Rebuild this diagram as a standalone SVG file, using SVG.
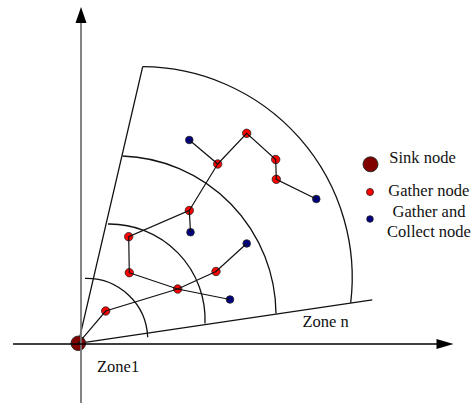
<svg xmlns="http://www.w3.org/2000/svg" width="476" height="403" viewBox="0 0 476 403">
<style>
.z{fill:none;stroke:#111;stroke-width:1.3}
.c{fill:none;stroke:#111;stroke-width:1.2}
.g{fill:#ff0000;stroke:#222;stroke-width:0.8}
.b{fill:#000080;stroke:#222;stroke-width:0.8}
.s{fill:#800000;stroke:#222;stroke-width:0.9}
.t{font-family:"Liberation Serif","Times New Roman",serif;font-size:16.5px;fill:#111}
</style>
<rect width="476" height="403" fill="#fff"/>
<g id="zones">
<path class="z" d="M78.3 343.3 L142.7 66.7 M78.3 343.3 L372.3 299.8"/>
<path class="z" d="M85 278.3 A61.2 61.2 0 0 1 147.7 337.3"/>
<path class="z" d="M108 224 A95.6 95.6 0 0 1 205 323.5"/>
<path class="z" d="M122.5 156 A159 159 0 0 1 276 313.6"/>
<path class="z" d="M142.7 66.7 A210.8 210.8 0 0 1 350.7 302.8"/>
</g>
<g id="nodes">
<g id="sink"><circle class="s" cx="78.3" cy="343.3" r="7.3"/></g>
<g id="R1"><circle class="g" cx="105.7" cy="311" r="4.2"/></g>
<g id="D"><circle class="g" cx="177.7" cy="289" r="4.2"/></g>
<g id="R2"><circle class="g" cx="216" cy="271.5" r="4.2"/></g>
<g id="B1"><circle class="b" cx="246.7" cy="243.5" r="3.8"/></g>
<g id="R3"><circle class="g" cx="129.3" cy="272.7" r="4.2"/></g>
<g id="B2"><circle class="b" cx="230" cy="299.5" r="3.8"/></g>
<g id="R4"><circle class="g" cx="128.7" cy="236.7" r="4.2"/></g>
<g id="R5"><circle class="g" cx="189.3" cy="210.5" r="4.2"/></g>
<g id="B3"><circle class="b" cx="190.5" cy="232.2" r="3.8"/></g>
<g id="R6"><circle class="g" cx="217.7" cy="164" r="4.2"/></g>
<g id="B4"><circle class="b" cx="189.3" cy="140" r="3.8"/></g>
<g id="R7"><circle class="g" cx="246.7" cy="133.3" r="4.2"/></g>
<g id="R8"><circle class="g" cx="275.7" cy="159.5" r="4.2"/></g>
<g id="R9"><circle class="g" cx="276.3" cy="179.3" r="4.2"/></g>
<g id="B5"><circle class="b" cx="316.3" cy="199" r="3.8"/></g>
</g>
<g id="connectors">
<path class="c" d="M78.3 343.3 L105.7 311 L177.7 289 L216 271.5 L246.7 243.5"/>
<path class="c" d="M129.3 272.7 L177.7 289 L230 299.5"/>
<path class="c" d="M129.3 272.7 L128.7 236.7 L189.3 210.5 L190.5 232.2"/>
<path class="c" d="M189.3 210.5 L217.7 164 L189.3 140"/>
<path class="c" d="M217.7 164 L246.7 133.3 L275.7 159.5 L276.3 179.3 L316.3 199"/>
</g>
<g id="axes">
<line x1="81" y1="403" x2="81" y2="22" stroke="#777" stroke-width="1.8"/>
<polygon points="81,7 75.5,23 86.5,23" fill="#000"/>
<line x1="13" y1="344" x2="438" y2="344" stroke="#000" stroke-width="1.4"/>
<polygon points="453.5,344 436.5,339 436.5,349" fill="#000"/>
</g>
<g id="labels">
<text class="t" x="97" y="372">Zone1</text>
<text class="t" x="302.5" y="327">Zone n</text>
</g>
<g id="legend">
<circle class="s" cx="370.5" cy="164.3" r="7.5"/>
<circle class="g" cx="370" cy="192" r="3.5"/>
<circle class="b" cx="370" cy="219" r="3.3"/>
<text class="t" x="389.3" y="163">Sink node</text>
<text class="t" x="388.3" y="196">Gather node</text>
<text class="t" x="429" y="217" text-anchor="middle">Gather and</text>
<text class="t" x="429" y="237" text-anchor="middle">Collect node</text>
</g>
</svg>
